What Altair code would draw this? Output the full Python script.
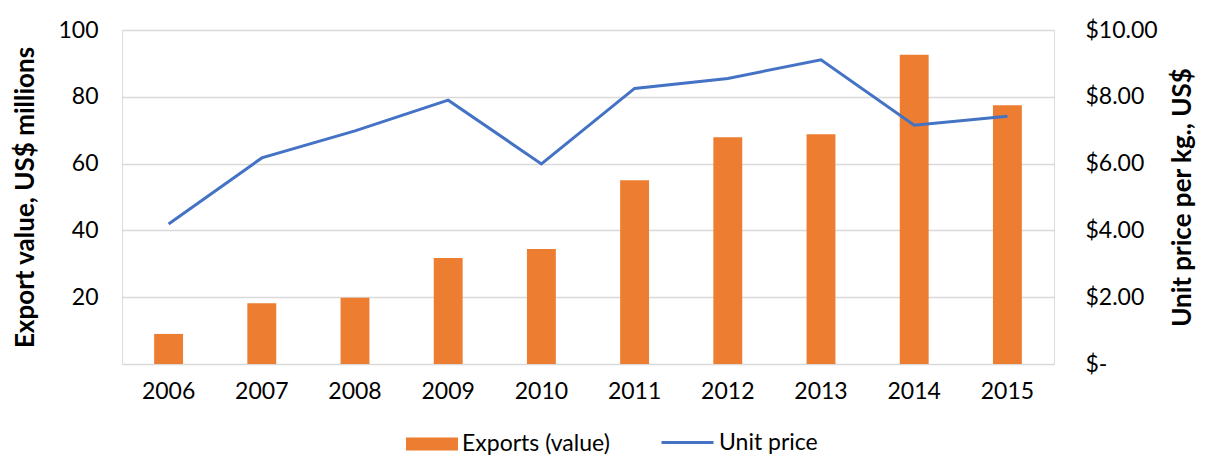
import altair as alt
import pandas as pd

years = ["2006", "2007", "2008", "2009", "2010", "2011", "2012", "2013", "2014", "2015"]
exports_value = [9.0, 18.2, 19.8, 31.7, 34.4, 55.0, 67.9, 68.8, 92.6, 77.5]
unit_price = [4.19, 6.17, 6.98, 7.90, 5.99, 8.25, 8.55, 9.11, 7.15, 7.42]

df = pd.DataFrame({
    "year": years,
    "exports": exports_value,
    "price": unit_price,
    "bar_series": ["Exports (value)"] * len(years),
    "line_series": ["Unit price"] * len(years),
})

FONT = "Lato"
ORANGE = "#ED7D31"
BLUE = "#4472C4"

x = alt.X("year:N", title=None,
          scale=alt.Scale(paddingInner=0.69, paddingOuter=0.345),
          axis=alt.Axis(domain=False, ticks=False, labelAngle=0, labelPadding=16,
                        labelFontSize=23, labelFont=FONT, labelColor="#000000"))

bars = alt.Chart(df).mark_bar(color=ORANGE).encode(
    x=x,
    y=alt.Y("exports:Q", title="Export value, US$ millions",
            scale=alt.Scale(domain=[0, 100], nice=False),
            axis=alt.Axis(values=[0, 20, 40, 60, 80, 100],
                          labelExpr="datum.value == 0 ? '' : datum.label",
                          domain=False, ticks=False, grid=True, gridColor="#d9d9d9",
                          gridWidth=1.5, labelPadding=24, labelFontSize=23,
                          labelFont=FONT, labelColor="#000000",
                          titleFont=FONT, titleFontSize=26, titleFontWeight="bold",
                          titleColor="#000000", titlePadding=19)),
    fill=alt.Fill("bar_series:N", title=None,
                  scale=alt.Scale(domain=["Exports (value)"], range=[ORANGE]),
                  legend=alt.Legend(orient="none", legendX=284, legendY=388,
                                    symbolType="M-1,-0.25H1V0.25H-1Z", symbolSize=2704,
                                    symbolStrokeWidth=0, labelFontSize=23, labelFont=FONT,
                                    labelColor="#000000", labelOffset=4, padding=0)),
)

line = alt.Chart(df).mark_line(strokeWidth=3).encode(
    x=x,
    y=alt.Y("price:Q", title="Unit price per kg., US$",
            scale=alt.Scale(domain=[0, 10], nice=False),
            axis=alt.Axis(orient="right", values=[0, 2, 4, 6, 8, 10],
                          labelExpr="datum.value == 0 ? '$-' : '$' + format(datum.value, '.2f')",
                          domain=False, ticks=False, grid=False, labelPadding=31,
                          labelFontSize=23, labelFont=FONT, labelColor="#000000",
                          titleFont=FONT, titleFontSize=26, titleFontWeight="bold",
                          titleColor="#000000", titlePadding=12, titleAngle=270,
                          titleBaseline="top")),
    stroke=alt.Stroke("line_series:N", title=None,
                      scale=alt.Scale(domain=["Unit price"], range=[BLUE]),
                      legend=alt.Legend(orient="none", legendX=538, legendY=385,
                                        symbolType="stroke", symbolSize=2704,
                                        symbolStrokeWidth=3, labelFontSize=23, labelFont=FONT,
                                        labelColor="#000000", labelOffset=4, padding=0)),
)

chart = alt.layer(bars, line).resolve_scale(y="independent").properties(
    width=932, height=334,
    autosize=alt.AutoSizeParams(type="none"),
    padding={"left": 114, "top": 22, "right": 144, "bottom": 92},
).configure_view(stroke=None).configure(background="white")

chart.save("out.html", embed_options={"renderer": "svg", "actions": False})
